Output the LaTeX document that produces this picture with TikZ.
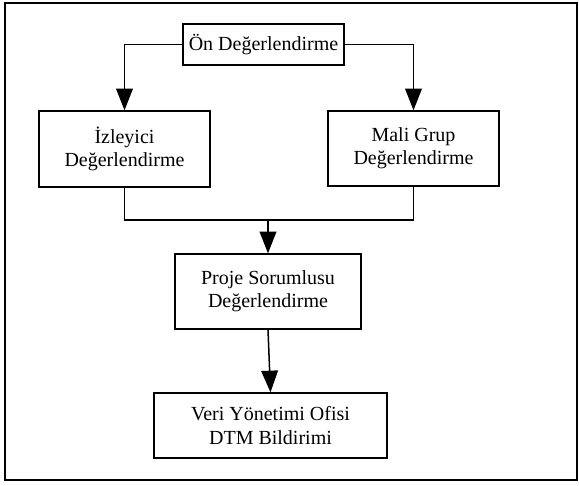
\documentclass[tikz,border=0pt]{standalone}
\usepackage{fontspec}
\setmainfont{Liberation Serif}
\usetikzlibrary{arrows.meta}
\begin{document}
\begin{tikzpicture}[x=0.6pt,y=-0.6pt]
	\useasboundingbox (0,0) rectangle (579,485);
	\draw[line width=1.2pt] (5,3) rectangle (577,480);
	\begin{scope}[every node/.style={draw=black, line width=0.8pt, align=center, inner sep=0pt, font=\fontsize{12}{14}\selectfont}]
		\node[minimum width=96.6pt, minimum height=24.6pt] (on) at (263.5,44.5) {Ön Değerlendirme};
		\node[minimum width=102.6pt, minimum height=45.6pt] (izleyici) at (124.5,149) {İzleyici\\Değerlendirme};
		\node[minimum width=102.6pt, minimum height=45pt] (mali) at (413.5,148.5) {Mali Grup\\Değerlendirme};
		\node[minimum width=111.6pt, minimum height=45pt] (proje) at (268,291.5) {Proje Sorumlusu\\Değerlendirme};
		\node[minimum width=139.8pt, minimum height=39pt] (veri) at (270.5,425.5) {Veri Yönetimi Ofisi\\DTM Bildirimi};
	\end{scope}
	\coordinate (birles) at (268,220);
	\begin{scope}[every path/.style={draw=black, line width=0.9pt}, every edge/.style={draw=black, line width=0.9pt, -{Triangle[length=13pt,width=10pt]}}]
		\path (on.west) edge[to path={-| (\tikztotarget)}] (izleyici.north);
		\path (on.east) edge[to path={-| (\tikztotarget)}] (mali.north);
		\path (izleyici.south) |- (birles) -| (mali.south);
		\path (birles) edge (proje.north);
		\path (proje.south) edge (veri.north);
	\end{scope}
\end{tikzpicture}
\end{document}
